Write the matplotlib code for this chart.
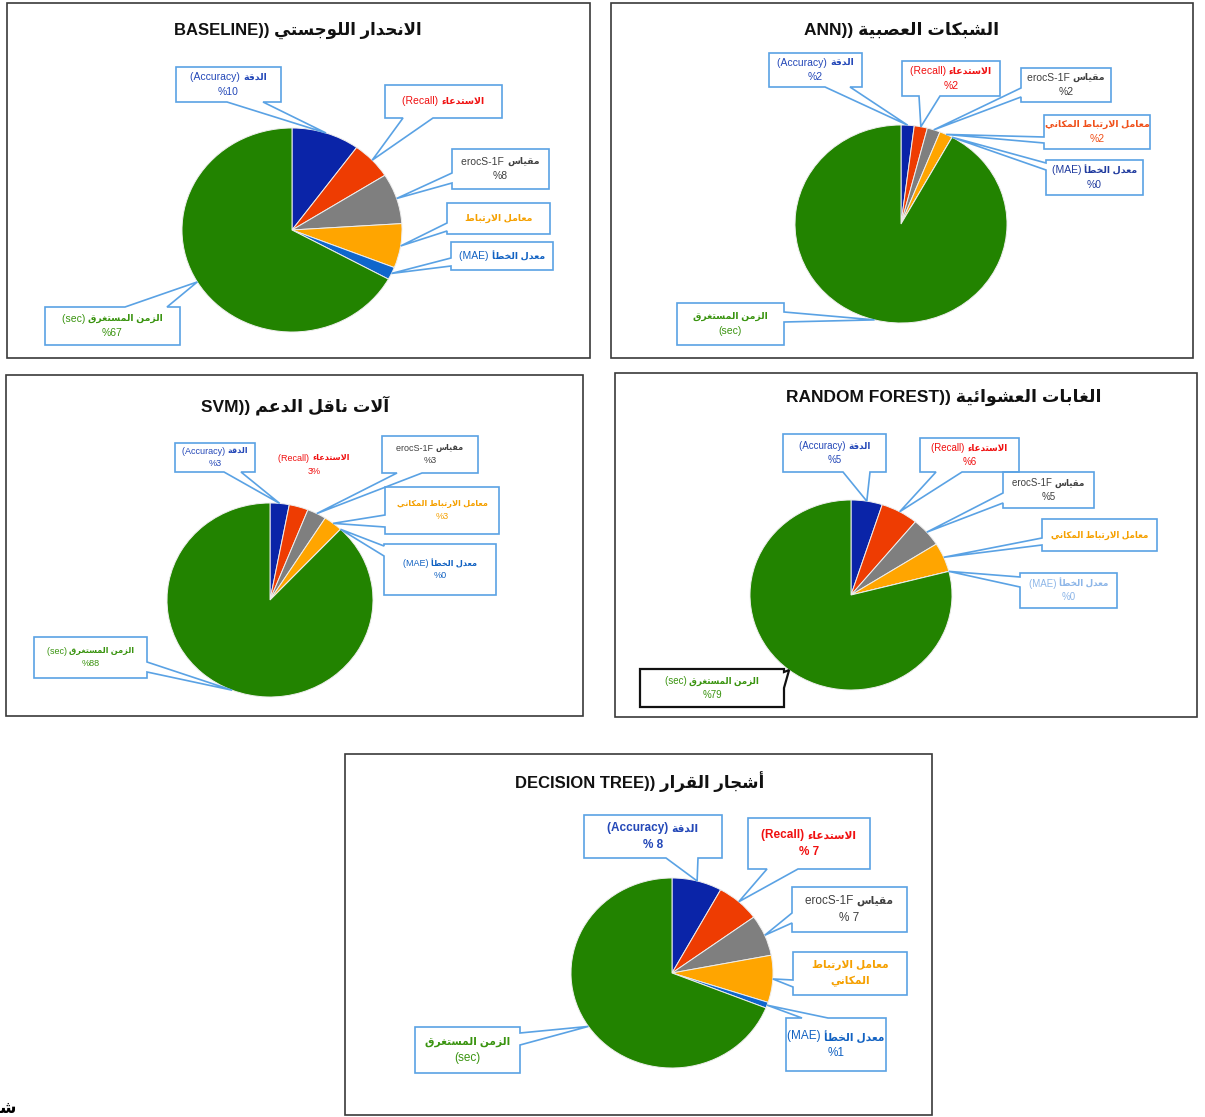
import numpy as np
import matplotlib
matplotlib.use("Agg")
import matplotlib.pyplot as plt
from matplotlib.patches import Rectangle, Polygon

plt.rcParams["font.family"] = ["Liberation Sans", "DejaVu Sans"]

W, H = 1205, 1117

# ---------------- data (percent of total per metric) ----------------
metrics = ["Accuracy", "Recall", "F1-Score", "Spatial correlation", "MAE", "Time (sec)"]
baseline_values = [10, 6, 8, 7, 2, 67]
ann_values = [2, 2, 2, 2, 0, 92]
svm_values = [3, 3, 3, 3, 0, 88]
rf_values = [5, 6, 5, 5, 0, 79]
dt_values = [8, 7, 7, 8, 1, 69]

slice_colors = ["#0A24A8", "#EE3C02", "#7F7F7F", "#FFA500", "#0F66CC", "#228300"]


# ---------------- minimal Arabic contextual shaping ----------------
_DUAL = {"ئ": 0xFE89, "ب": 0xFE8F, "ت": 0xFE95, "ث": 0xFE99, "ج": 0xFE9D,
         "ح": 0xFEA1, "خ": 0xFEA5, "س": 0xFEB1, "ش": 0xFEB5, "ص": 0xFEB9,
         "ض": 0xFEBD, "ط": 0xFEC1, "ظ": 0xFEC5, "ع": 0xFEC9, "غ": 0xFECD,
         "ف": 0xFED1, "ق": 0xFED5, "ك": 0xFED9, "ل": 0xFEDD, "م": 0xFEE1,
         "ن": 0xFEE5, "ه": 0xFEE9, "ي": 0xFEF1}
_RIGHT = {"آ": 0xFE81, "أ": 0xFE83, "ؤ": 0xFE85, "إ": 0xFE87, "ا": 0xFE8D,
          "ة": 0xFE93, "د": 0xFEA9, "ذ": 0xFEAB, "ر": 0xFEAD, "ز": 0xFEAF,
          "و": 0xFEED, "ى": 0xFEEF}
_NONE = {"ء": 0xFE80}
_LAMALEF = {"آ": 0xFEF5, "أ": 0xFEF7, "إ": 0xFEF9, "ا": 0xFEFB}


def _shape(s):
    out = []
    prev_joins = False
    i = 0
    while i < len(s):
        c = s[i]
        nxt = s[i + 1] if i + 1 < len(s) else None
        if c == "ل" and nxt in _LAMALEF:
            out.append(chr(_LAMALEF[nxt] + (1 if prev_joins else 0)))
            prev_joins = False
            i += 2
            continue
        if c in _DUAL:
            base = _DUAL[c]
            joins_next = nxt is not None and (nxt in _DUAL or nxt in _RIGHT)
            if prev_joins and joins_next:
                code = base + 3
            elif prev_joins:
                code = base + 1
            elif joins_next:
                code = base + 2
            else:
                code = base
            out.append(chr(code))
            prev_joins = joins_next
        elif c in _RIGHT:
            out.append(chr(_RIGHT[c] + (1 if prev_joins else 0)))
            prev_joins = False
        elif c in _NONE:
            out.append(chr(_NONE[c]))
            prev_joins = False
        else:
            out.append(c)
            prev_joins = False
        i += 1
    return "".join(out)


def ar(s):
    """Shape Arabic text and put it in visual (right-to-left) order."""
    return _shape(s)[::-1]


AR_ACC = ar("الدقة")
AR_REC = ar("الاستدعاء")
AR_F1 = ar("مقياس")
AR_CORR = ar("معامل الارتباط")
AR_CORR_FULL = ar("معامل الارتباط المكاني")
AR_PLACE = ar("المكاني")
AR_MAE = ar("معدل الخطأ")
AR_TIME = ar("الزمن المستغرق")

C_ACC, C_REC, C_F1, C_CORR, C_MAE, C_TIME = ("#2448B8", "#F01010", "#404040",
                                             "#F5A000", "#1262C2", "#3A9410")
BOX_EC = "#5AA2E4"

panels = [
    dict(values=baseline_values, frame=(7, 3, 590, 358),
         title="BASELINE)) " + ar("الانحدار اللوجستي"), title_xy=(298, 30), title_fs=12,
         pie=(292, 230, 110, 102), fs=7.5,
         labels=[
             (["(Accuracy) " + AR_ACC, "%{v}"], C_ACC, (176, 67, 281, 102), "bottom", (227, 263)),
             (["(Recall) " + AR_REC], C_REC, (385, 85, 502, 118), "bottom", (403, 433)),
             (["erocS-1F " + AR_F1, "%{v}"], C_F1, (452, 149, 549, 189), "left", (173, 183)),
             ([AR_CORR], C_CORR, (447, 203, 550, 234), "left", (223, 231)),
             (["(MAE) " + AR_MAE], C_MAE, (451, 242, 553, 270), "left", (258, 266)),
             (["(sec) " + AR_TIME, "%{v}"], C_TIME, (45, 307, 180, 345), "top", (125, 167)),
         ]),
    dict(values=ann_values, frame=(611, 3, 1193, 358),
         title="ANN)) " + ar("الشبكات العصبية"), title_xy=(902, 30), title_fs=12.5,
         pie=(901, 224, 106, 99), fs=7.5,
         labels=[
             (["(Accuracy) " + AR_ACC, "%{v}"], C_ACC, (769, 53, 862, 87), "bottom", (825, 850)),
             (["(Recall) " + AR_REC, "%{v}"], C_REC, (902, 61, 1000, 96), "bottom", (919, 940)),
             (["erocS-1F " + AR_F1, "%{v}"], C_F1, (1021, 68, 1111, 102), "left", (88, 97)),
             ([AR_CORR_FULL, "%{v}"], "#F0501A", (1044, 115, 1150, 149), "left", (137, 143)),
             (["(MAE) " + AR_MAE, "%{v}"], "#1F3A9E", (1046, 160, 1143, 195), "left", (163, 170)),
             ([AR_TIME, "(sec)"], C_TIME, (677, 303, 784, 345), "right", (312, 322)),
         ]),
    dict(values=svm_values, frame=(6, 375, 583, 716),
         title="SVM)) " + ar("آلات ناقل الدعم"), title_xy=(295, 405), title_fs=12.5,
         pie=(270, 600, 103, 97), fs=6.5,
         labels=[
             (["(Accuracy) " + AR_ACC, "%{v}"], C_ACC, (175, 443, 255, 472), "bottom", (224, 241)),
             (["(Recall) " + AR_REC, "{v}%"], C_REC, (262, 448, 366, 482), None, None),
             (["erocS-1F " + AR_F1, "%{v}"], C_F1, (382, 436, 478, 473), "bottom", (397, 422)),
             ([AR_CORR_FULL, "%{v}"], C_CORR, (385, 487, 499, 534), "left", (515, 527)),
             (["(MAE) " + AR_MAE, "%{v}"], C_MAE, (384, 544, 496, 595), "left", (546, 556)),
             (["(sec) " + AR_TIME, "%{v}"], C_TIME, (34, 637, 147, 678), "right", (662, 672)),
         ]),
    dict(values=rf_values, frame=(615, 373, 1197, 717),
         title="RANDOM FOREST)) " + ar("الغابات العشوائية"), title_xy=(944, 397), title_fs=12.5,
         pie=(851, 595, 101, 95), fs=7,
         labels=[
             (["(Accuracy) " + AR_ACC, "%{v}"], C_ACC, (783, 434, 886, 472), "bottom", (843, 870)),
             (["(Recall) " + AR_REC, "%{v}"], C_REC, (920, 438, 1019, 472), "bottom", (936, 962)),
             (["erocS-1F " + AR_F1, "%{v}"], C_F1, (1003, 472, 1094, 508), "left", (493, 503)),
             ([AR_CORR_FULL], C_CORR, (1042, 519, 1157, 551), "left", (538, 545)),
             (["(MAE) " + AR_MAE, "%{v}"], "#8DB6E8", (1020, 573, 1117, 608), "left", (577, 587)),
             (["(sec) " + AR_TIME, "%{v}"], C_TIME, (640, 669, 784, 707), "right", (672, 688)),
         ]),
    dict(values=dt_values, frame=(345, 754, 932, 1115),
         title="DECISION TREE)) " + ar("أشجار القرار"), title_xy=(640, 782), title_fs=12,
         pie=(672, 973, 101, 95), fs=8.5,
         labels=[
             (["(Accuracy) " + AR_ACC, "% {v}"], C_ACC, (584, 815, 722, 858), "bottom", (666, 698)),
             (["(Recall) " + AR_REC, "% {v}"], C_REC, (748, 818, 870, 869), "bottom", (767, 798)),
             (["erocS-1F " + AR_F1, "% {v}"], C_F1, (792, 887, 907, 932), "left", (913, 923)),
             ([AR_CORR, AR_PLACE], C_CORR, (793, 952, 907, 995), "left", (980, 987)),
             (["(MAE) " + AR_MAE, "%{v}"], C_MAE, (786, 1018, 886, 1071), "top", (802, 828)),
             ([AR_TIME, "(sec)"], C_TIME, (415, 1027, 520, 1073), "right", (1033, 1045)),
         ]),
]

fig = plt.figure(figsize=(W / 100, H / 100), dpi=100, facecolor="white")
over = fig.add_axes([0, 0, 1, 1], zorder=5)
over.set_xlim(0, W)
over.set_ylim(H, 0)
over.axis("off")
over.patch.set_alpha(0)
renderer = fig.canvas.get_renderer()

ARABIC_SCALE = 0.9


def callout(box, side, base, tip, ec, lw):
    x0, y0, x1, y1 = box
    tl, tr, br, bl = (x0, y0), (x1, y0), (x1, y1), (x0, y1)
    over.add_patch(Rectangle((x0, y0), x1 - x0, y1 - y0, facecolor="white",
                             edgecolor="none", zorder=3))
    if side is None:
        return
    a, b = base
    if side == "top":
        pts = [tl, (a, y0), tip, (b, y0), tr, br, bl]
    elif side == "right":
        pts = [tl, tr, (x1, a), tip, (x1, b), br, bl]
    elif side == "bottom":
        pts = [tl, tr, br, (b, y1), tip, (a, y1), bl]
    else:
        pts = [tl, tr, br, bl, (x0, b), tip, (x0, a)]
    over.add_patch(Polygon(pts, closed=True, fill=False, edgecolor=ec,
                           linewidth=lw, joinstyle="miter", zorder=4))


def _is_arabic(ch):
    return 0x0600 <= ord(ch) <= 0x06FF or 0xFB50 <= ord(ch) <= 0xFEFF


def _split(line):
    """Split a visual line into its Latin prefix and Arabic remainder."""
    for k, ch in enumerate(line):
        if _is_arabic(ch):
            return [(line[:k], False), (line[k:], True)] if k else [(line, True)]
    return [(line, False)]


def _width(s, fs, bold):
    t = over.text(0, 0, s, fontsize=fs, fontweight="bold" if bold else "normal")
    w = t.get_window_extent(renderer).width
    t.remove()
    return w


def label_text(lines, cx, cy, fs, color, latin_bold):
    step = fs * 1.4 * 100 / 72
    y = cy - step * (len(lines) - 1) / 2
    for line in lines:
        segs = []
        for s, arabic in _split(line):
            segs.append((s, True if arabic else latin_bold,
                         fs * ARABIC_SCALE if arabic else fs))
        widths = [_width(s, f, b) for s, b, f in segs]
        x = cx - sum(widths) / 2
        for (s, b, f), w in zip(segs, widths):
            over.text(x, y, s, ha="left", va="center", fontsize=f, color=color,
                      fontweight="bold" if b else "normal", zorder=6)
            x += w
        y += step


for p in panels:
    fx0, fy0, fx1, fy1 = p["frame"]
    over.add_patch(Rectangle((fx0, fy0), fx1 - fx0, fy1 - fy0, fill=False,
                             edgecolor="#3A3A3A", linewidth=1.2, zorder=2))
    tx, ty = p["title_xy"]
    over.text(tx, ty, p["title"], ha="center", va="center", fontsize=p["title_fs"],
              fontweight="bold", color="#111111", zorder=6)

    cx, cy, rx, ry = p["pie"]
    pax = fig.add_axes([(cx - rx) / W, (H - cy - ry) / H, 2 * rx / W, 2 * ry / H], zorder=2)
    wedges, _ = pax.pie(p["values"], colors=slice_colors, startangle=90, counterclock=False,
                        radius=1, wedgeprops=dict(edgecolor="#EEEEEE", linewidth=0.7))
    pax.set_aspect("auto")
    pax.set_xlim(-1, 1)
    pax.set_ylim(-1, 1)
    pax.axis("off")

    for w, v, (tmpl, col, box, side, base) in zip(wedges, p["values"], p["labels"]):
        m = np.deg2rad((w.theta1 + w.theta2) / 2)
        dx, dy = pax.transData.transform((np.cos(m), np.sin(m)))
        tip = (dx, H - dy)
        black = p["values"] is rf_values and side == "right"
        callout(box, side, base, tip, "#111111" if black else BOX_EC, 1.6 if black else 1.2)
        lines = [s.format(v=v) for s in tmpl]
        bold = p["values"] is dt_values and col in (C_ACC, C_REC)
        label_text(lines, (box[0] + box[2]) / 2, (box[1] + box[3]) / 2,
                   p["fs"], col, bold)

# fragment of the caption below the figures
over.text(-1, 1117, chr(0xFEB7), ha="left", va="bottom", fontsize=12,
          fontweight="bold", color="black", family=["DejaVu Sans"], zorder=6)

fig.savefig("out.png", dpi=100, facecolor="white")
